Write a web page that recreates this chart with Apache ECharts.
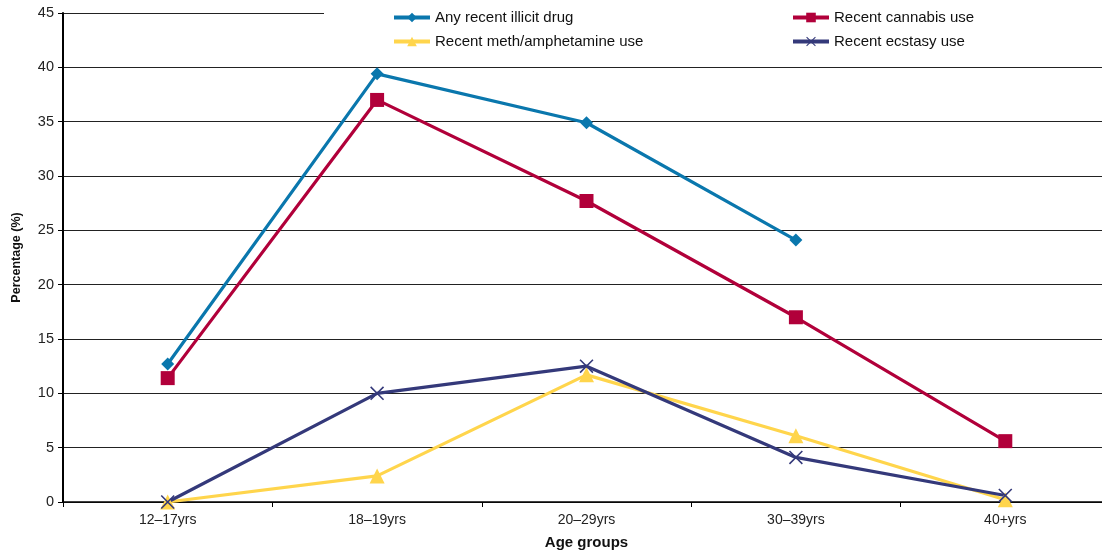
<!DOCTYPE html>
<html>
<head>
<meta charset="utf-8">
<style>
  html, body { margin: 0; padding: 0; background: #fff; }
  #chart { width: 1102px; height: 550px; }
</style>
<script src="https://cdn.jsdelivr.net/npm/echarts@6/dist/echarts.min.js"></script>
</head>
<body>
<div id="chart"></div>
<script>
// Age groups on the category axis
const ageGroups = ['12\u201317yrs', '18\u201319yrs', '20\u201329yrs', '30\u201339yrs', '40+yrs'];

// Percentage of each age group reporting recent use
const anyIllicit = [12.7, 39.4, 34.9, 24.1, null];
const cannabis = [11.4, 37.0, 27.7, 17.0, 5.6];
const methAmphetamine = [0, 2.4, 11.7, 6.1, 0.2];
const ecstasy = [0, 10.0, 12.5, 4.1, 0.6];

const seriesNames = [
  'Any recent illicit drug',
  'Recent cannabis use',
  'Recent meth/amphetamine use',
  'Recent ecstasy use'
];

const FONT = '"Liberation Sans", Arial, sans-serif';
const crossPath = 'path://M0,0.8L0.8,0L10,9.2L9.2,10ZM9.2,0L10,0.8L0.8,10L0,9.2Z';

const chart = echarts.init(document.getElementById('chart'), null, { renderer: 'canvas' });

function lineSeries(name, data, color, symbol, size) {
  return {
    name: name,
    type: 'line',
    data: data,
    symbol: symbol,
    symbolSize: size,
    connectNulls: false,
    lineStyle: { color: color, width: 3.2 },
    itemStyle: { color: color },
    emphasis: { disabled: true },
    z: 3
  };
}

function legendAt(name, left, top) {
  return {
    data: [name],
    left: left,
    top: top,
    padding: 0,
    itemWidth: 36,
    itemHeight: 12,
    selectedMode: false,
    lineStyle: { width: 4 },
    textStyle: { fontFamily: FONT, fontSize: 15, color: '#111' },
    z: 6
  };
}

chart.setOption({
  animation: false,
  backgroundColor: '#fff',
  grid: {
    left: 63, top: 13, width: 1047, height: 489,
    containLabel: false,
    outerBoundsMode: 'none'
  },
  legend: [
    legendAt(seriesNames[0], 392, 10),
    legendAt(seriesNames[1], 791, 10),
    legendAt(seriesNames[2], 392, 34),
    legendAt(seriesNames[3], 791, 34)
  ],
  graphic: [{
    type: 'rect',
    left: 324,
    top: 0,
    shape: { width: 800, height: 30 },
    style: { fill: '#fff' },
    z: 1,
    silent: true
  }],
  xAxis: {
    type: 'category',
    data: ageGroups,
    boundaryGap: true,
    name: 'Age groups',
    nameLocation: 'middle',
    nameGap: 33,
    nameTextStyle: { fontFamily: FONT, fontSize: 15, fontWeight: 'bold', color: '#111' },
    axisLine: { lineStyle: { color: '#000', width: 1.5 } },
    axisTick: { show: true, length: 5, lineStyle: { color: '#000' } },
    axisLabel: { fontFamily: FONT, fontSize: 14, color: '#222', margin: 11 },
    splitLine: { show: false }
  },
  yAxis: {
    type: 'value',
    min: 0,
    max: 45,
    interval: 5,
    name: 'Percentage (%)',
    nameLocation: 'middle',
    nameGap: 40,
    nameTextStyle: { fontFamily: FONT, fontSize: 12.5, fontWeight: 'bold', color: '#111' },
    axisLine: { show: true, lineStyle: { color: '#000', width: 2 } },
    axisTick: { show: true, length: 5, lineStyle: { color: '#000' } },
    axisLabel: { fontFamily: FONT, fontSize: 14.5, color: '#222', margin: 9 },
    splitLine: { show: true, lineStyle: { color: '#222', width: 1 } }
  },
  series: [
    lineSeries(seriesNames[0], anyIllicit, '#0a77ad', 'diamond', 13),
    lineSeries(seriesNames[1], cannabis, '#b1003a', 'rect', 14),
    lineSeries(seriesNames[2], methAmphetamine, '#ffd54c', 'triangle', 15),
    lineSeries(seriesNames[3], ecstasy, '#34397a', crossPath, 14)
  ]
});
</script>
</body>
</html>
